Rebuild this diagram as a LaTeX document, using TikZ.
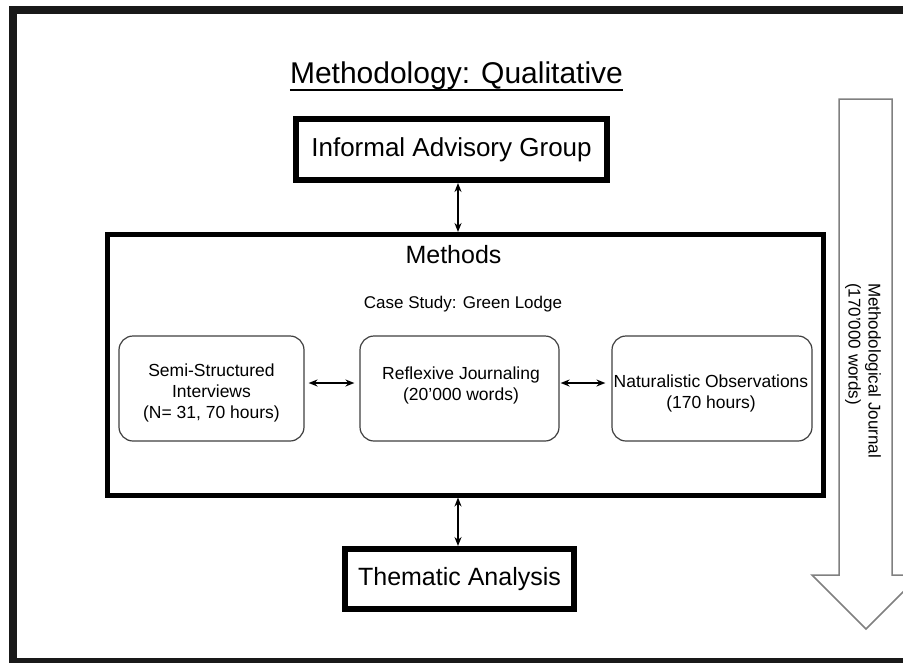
\documentclass[tikz,border=0pt]{standalone}
\usepackage{fontspec}
\setmainfont{Liberation Sans}
\usetikzlibrary{arrows.meta,calc}
\begin{document}
\begin{tikzpicture}[x=1pt,y=-1pt,
  thickbox/.style={draw=black, line width=6pt, inner sep=0pt},
  softbox/.style={draw=black!75, line width=1.2pt, rounded corners=14pt, inner sep=0pt, minimum height=105pt},
  boxtext/.style={font=\fontsize{17.5}{21}\selectfont, align=center, inner sep=0pt},
  link/.style={line width=1.5pt, {Stealth[length=9pt,width=7pt]}-{Stealth[length=9pt,width=7pt]}},
  plain/.style={inner sep=0pt, anchor=base},
]
\useasboundingbox (0,0) rectangle (903,662);
\clip (0,0) rectangle (903,662);
\fill[white] (0,0) rectangle (903,662);
% outer frame
\draw[line width=8pt, black!90] (12.5,10) rectangle (915,662);
% title
\node[plain, font=\fontsize{30}{36}\selectfont] (title) at (456.5,83) {Methodology: Qualitative};
\draw[line width=1.6pt] ($(title.base west)+(0,7)$) -- ($(title.base east)+(0,7)$);
% informal advisory group
\node[thickbox, minimum width=311pt, minimum height=61pt, font=\fontsize{26}{30}\selectfont] (iag) at (451.5,149.5) {Informal Advisory Group};
% methods box
\node[draw=black, line width=5pt, minimum width=716pt, minimum height=260.5pt, inner sep=0pt] (methods) at (465.5,364.75) {};
\node[plain, font=\fontsize{25}{30}\selectfont] (mlabel) at (453.5,263) {Methods};
\node[plain, font=\fontsize{17}{20}\selectfont] (case) at (463,308) {Case Study: Green Lodge};
% inner boxes
\node[softbox, minimum width=185pt] (b1) at (211.5,388.5) {};
\node[softbox, minimum width=199pt] (b2) at (459.5,388.5) {};
\node[softbox, minimum width=200pt] (b3) at (712,388.5) {};
\node[boxtext] (t1) at ($(b1)+(0,4.5)$) {Semi-Structured\\Interviews\\(N= 31, 70 hours)};
\node[boxtext] (t2) at ($(b2)+(1.5,-3.5)$) {Reflexive Journaling\\(20'000 words)};
\node[boxtext] (t3) at ($(b3)+(-1,5)$) {Naturalistic Observations\\(170 hours)};
\coordinate (l1s) at ($(b1.east)+(4,-5.5)$);
\coordinate (l1e) at ($(b2.west)+(-5,-5.5)$);
\coordinate (l2s) at ($(b2.east)+(1,-5.5)$);
\coordinate (l2e) at ($(b3.west)+(-6,-5.5)$);
\draw[link] (l1s) -- (l1e);
\draw[link] (l2s) -- (l2e);
% thematic analysis
\node[thickbox, minimum width=229pt, minimum height=60pt, font=\fontsize{25}{30}\selectfont] (them) at (459.5,579) {Thematic Analysis};
% vertical connectors
\coordinate (up) at ($(iag.south)+(6.5,0)$);
\coordinate (dn) at ($(them.north)+(-1.5,0)$);
\draw[link] (up) -- (up |- methods.north);
\draw[link] (dn |- methods.south) -- (dn);
% big hollow arrow
\draw[black!50, line width=1.5pt, line join=miter]
  (839,99) -- (892,99) -- (892,575) -- (920,575) -- (866,629) -- (812,575) -- (839,575) -- cycle;
\node[rotate=-90, anchor=west, align=left, inner sep=0pt, font=\fontsize{17}{20}\selectfont] (journal) at (863,283) {Methodological Journal\\(170'000 words)};
\end{tikzpicture}
\end{document}
